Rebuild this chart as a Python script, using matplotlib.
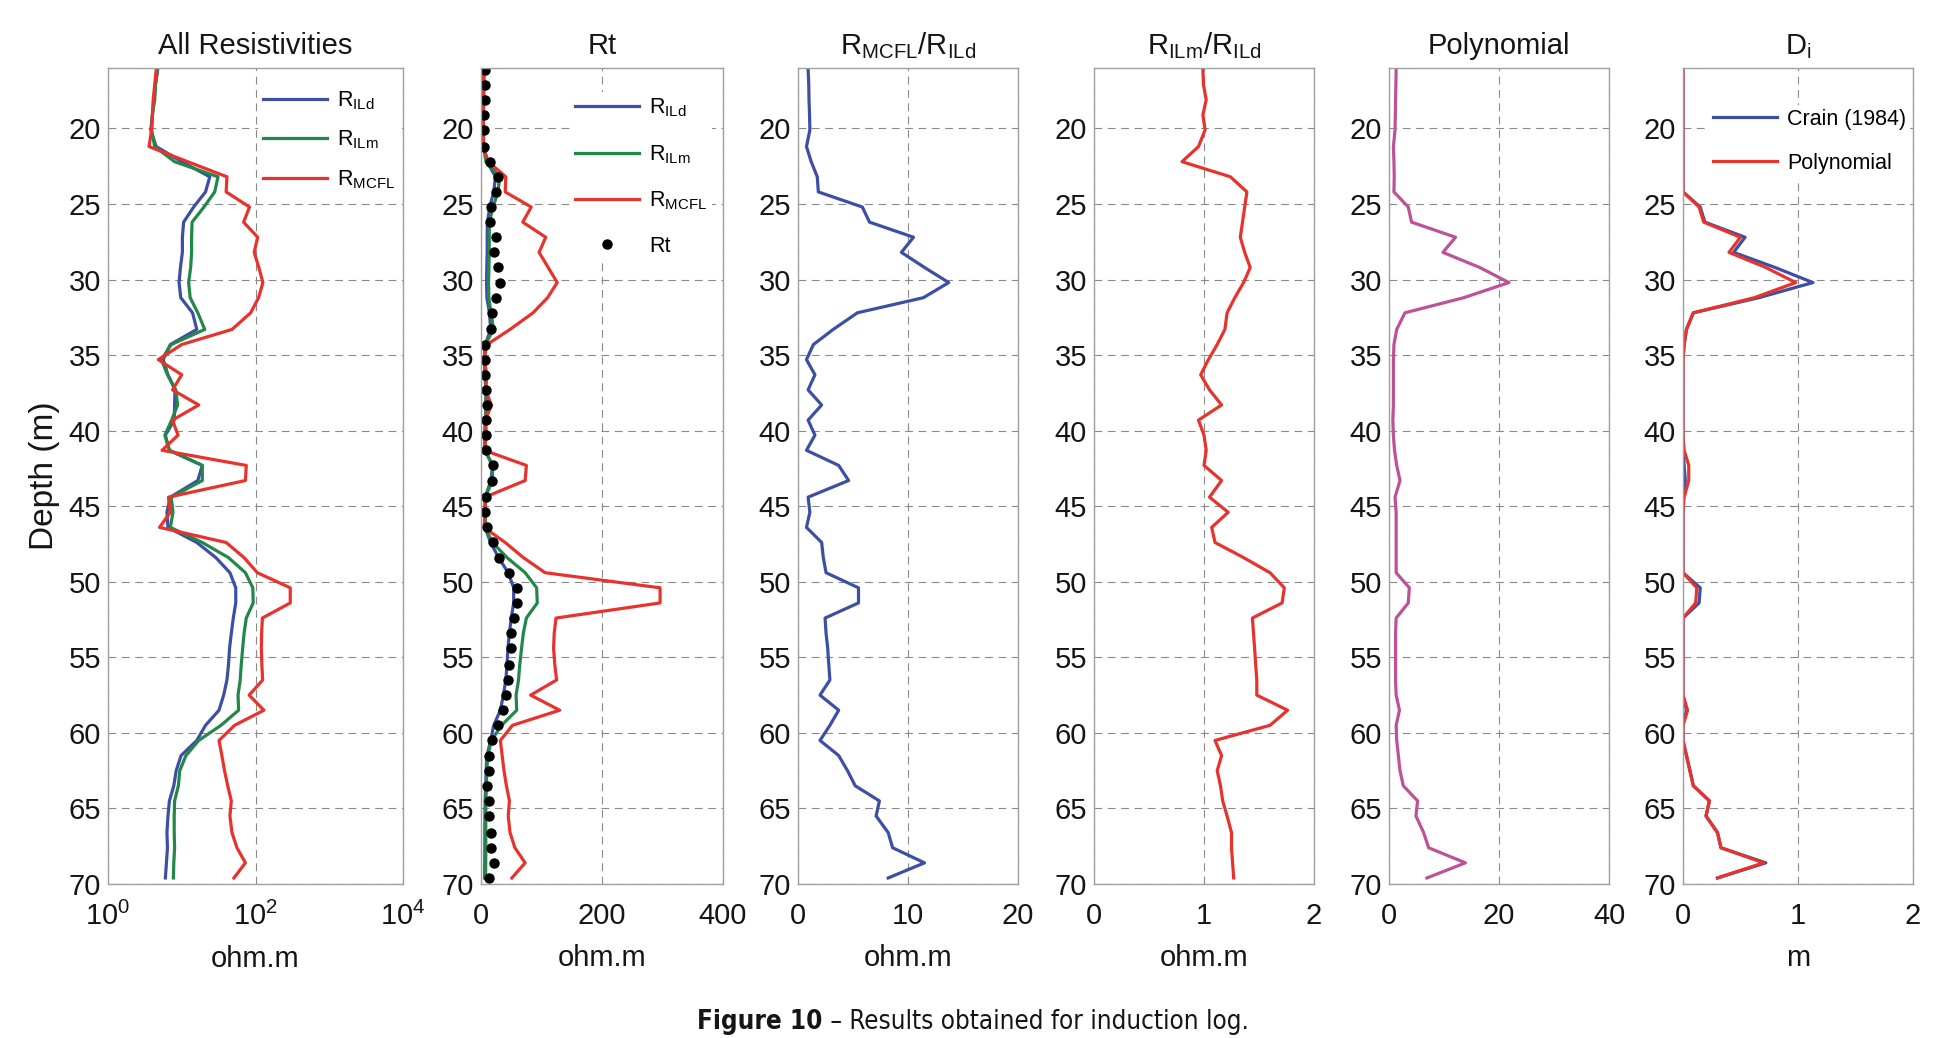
import matplotlib
matplotlib.use('Agg')
import matplotlib.pyplot as plt
import matplotlib.font_manager as fm
from matplotlib.font_manager import FontProperties
from matplotlib.ticker import FixedLocator, NullLocator, LogFormatterMathtext

plt.rcParams['font.family'] = ['Liberation Sans', 'DejaVu Sans']
plt.rcParams['mathtext.fontset'] = 'custom'
plt.rcParams['mathtext.rm'] = 'Liberation Sans'
plt.rcParams['mathtext.it'] = 'Liberation Sans:italic'
plt.rcParams['mathtext.bf'] = 'Liberation Sans:bold'

# ---------------- data ----------------
depth = [16.1, 17.1, 18.1, 19.1, 20.1, 21.2, 22.2, 23.2, 24.2, 25.2, 26.2, 27.2, 28.2, 29.2,
         30.2, 31.2, 32.2, 33.3, 34.3, 35.3, 36.3, 37.3, 38.3, 39.3, 40.3, 41.3, 42.3, 43.3,
         44.4, 45.4, 46.4, 47.4, 48.4, 49.4, 50.4, 51.4, 52.4, 53.4, 54.4, 55.5, 56.5, 57.5,
         58.5, 59.5, 60.5, 61.5, 62.5, 63.5, 64.5, 65.5, 66.6, 67.6, 68.6, 69.6]

r_ild = [4.7, 4.4, 4.2, 4.0, 3.8, 4.5, 10, 24, 21, 14.5, 10.6, 10.2, 10.2, 9.6,
         9.2, 9.7, 14, 16, 7.0, 5.6, 6.5, 8.1, 8.0, 7.9, 6.0, 6.8, 19, 16.5,
         7.0, 6.3, 6.5, 16, 29, 45, 54, 54, 50, 47, 44.5, 43, 41, 37,
         32, 21, 16, 9.8, 8.4, 7.8, 6.8, 6.5, 6.3, 6.4, 6.2, 6.0]

r_ilm = [4.7, 4.4, 4.3, 4.0, 3.9, 4.3, 8, 31, 28, 20, 13.8, 13.6, 13.6, 13.2,
         12.4, 13, 16.5, 20.5, 7.2, 5.3, 6.4, 8.3, 8.8, 7.3, 5.9, 6.8, 19, 19,
         7.2, 7.6, 7.0, 19, 43, 73, 92, 93, 75, 70, 67, 64, 62, 58,
         59, 34, 17, 11.4, 9.4, 9.0, 8.0, 7.9, 7.9, 8.0, 7.8, 7.7]

r_mcfl = [4.5, 4.3, 4.1, 4.0, 3.9, 3.6, 12, 41, 40, 83, 69, 107, 96, 111,
          126, 110, 86, 48, 10, 4.8, 10, 7.5, 17, 7.5, 8.9, 5.4, 75, 73,
          6.6, 7.0, 5.0, 40, 70, 106, 296, 296, 124, 121, 120, 122, 125, 82,
          130, 52, 32, 35, 38, 42, 47, 45, 48, 56, 73, 51]

rt = [7.3, 7.3, 6.1, 5.6, 5.6, 5.6, 14.5, 28, 24, 16.8, 14.5, 24, 21, 28,
      31, 24, 18.4, 17.3, 7.3, 7.3, 7.3, 9, 10, 9, 9, 9, 20, 18.4,
      9, 7.3, 10, 20, 30, 46, 59, 59, 54, 50, 50, 47, 45, 42,
      37, 28, 18, 13, 13, 10, 13, 13, 16, 16, 21, 13]

ratio_mcfl_ild = [0.92, 0.98, 1.0, 1.05, 1.08, 0.77, 1.2, 1.75, 1.85, 5.85, 6.5, 10.5, 9.4, 11.5,
                  13.7, 11.4, 5.4, 3.2, 1.4, 0.77, 1.54, 0.92, 2.15, 0.92, 1.54, 0.77, 3.7, 4.6,
                  0.92, 1.08, 0.77, 2.15, 2.3, 2.55, 5.5, 5.5, 2.46, 2.55, 2.7, 2.8, 2.9, 2.0,
                  3.7, 2.9, 2.0, 3.7, 4.5, 5.2, 7.4, 7.1, 8.2, 8.6, 11.5, 8.2]

ratio_ilm_ild = [0.99, 0.995, 1.02, 0.99, 1.01, 0.95, 0.80, 1.24, 1.39, 1.37, 1.35, 1.33, 1.37, 1.42,
                 1.36, 1.28, 1.21, 1.19, 1.12, 1.04, 0.97, 1.05, 1.16, 0.95, 1.0, 1.02, 1.0, 1.16,
                 1.05, 1.22, 1.07, 1.10, 1.36, 1.60, 1.73, 1.71, 1.44, 1.45, 1.46, 1.47, 1.48, 1.48,
                 1.76, 1.60, 1.10, 1.16, 1.12, 1.15, 1.17, 1.21, 1.25, 1.25, 1.26, 1.27]

polynomial = [1.3, 1.25, 1.2, 1.15, 1.1, 0.8, 0.9, 0.95, 0.9, 3.5, 4.1, 12.1, 9.8, 16.5,
              21.8, 13.6, 2.9, 1.4, 0.9, 0.8, 0.8, 0.8, 0.8, 0.7, 0.8, 1.0, 1.4, 2.0,
              1.1, 1.3, 1.3, 1.3, 1.3, 1.3, 3.7, 3.5, 1.3, 1.2, 1.2, 1.2, 1.2, 1.3,
              1.9, 1.3, 1.4, 1.7, 2.0, 2.6, 5.2, 4.9, 6.3, 7.2, 13.9, 6.9]

di_crain = [0, 0, 0, 0, 0, 0, 0, 0, 0, 0.15, 0.19, 0.54, 0.44, 0.80,
            1.13, 0.66, 0.09, 0.03, 0.01, 0, 0, 0, 0, 0, 0, 0, 0.01, 0.02,
            0, 0, 0, 0, 0, 0, 0.15, 0.14, 0, 0, 0, 0, 0, 0,
            0.03, 0, 0, 0.03, 0.06, 0.09, 0.23, 0.20, 0.30, 0.33, 0.72, 0.30]

di_poly = [0, 0, 0, 0, 0, 0, 0, 0, 0, 0.14, 0.18, 0.50, 0.40, 0.72,
           0.98, 0.62, 0.09, 0.03, 0.01, 0, 0, 0, 0, 0, 0, 0.01, 0.05, 0.05,
           0.01, 0, 0, 0, 0, 0, 0.12, 0.11, 0, 0, 0, 0, 0, 0,
           0.04, 0, 0, 0.03, 0.06, 0.09, 0.23, 0.20, 0.30, 0.33, 0.70, 0.30]

titles = ['All Resistivities', 'Rt', r'R$_{\mathrm{MCFL}}$/R$_{\mathrm{ILd}}$',
          r'R$_{\mathrm{ILm}}$/R$_{\mathrm{ILd}}$', 'Polynomial', r'D$_{\mathrm{i}}$']
xlabels = ['ohm.m', 'ohm.m', 'ohm.m', 'ohm.m', '', 'm']
xlims = [(1, 1e4), (0, 400), (0, 20), (0, 2), (0, 40), (0, 2)]
xtick_vals = [[1, 100, 10000], [0, 200, 400], [0, 10, 20], [0, 1, 2], [0, 20, 40], [0, 1, 2]]
depth_ticks = [20, 25, 30, 35, 40, 45, 50, 55, 60, 65, 70]
leg_ild, leg_ilm, leg_mcfl = r'R$_{\mathrm{ILd}}$', r'R$_{\mathrm{ILm}}$', r'R$_{\mathrm{MCFL}}$'
caption_bold = 'Figure 10'
caption_rest = ' \u2013 Results obtained for induction log.'

# ---------------- styles ----------------
BLUE = '#3d4fa5'
GREEN = '#23874a'
RED = '#e8332c'
MAG = '#bd5296'
LW = 2.3
TXT = '#151515'

W, H = 1934, 1038
fig = plt.figure(figsize=(W / 100, H / 100), dpi=100)

top_px, bot_px = 68, 884
panels_px = [(108, 403), (481, 723), (798, 1018), (1094, 1314), (1389, 1609), (1683, 1913)]
axes = []
for (l, r) in panels_px:
    ax = fig.add_axes([l / W, 1 - bot_px / H, (r - l) / W, (bot_px - top_px) / H])
    axes.append(ax)

for i, ax in enumerate(axes):
    if i == 0:
        ax.set_xscale('log')
    ax.set_xlim(*xlims[i])
    ax.set_ylim(70, 16)
    ax.xaxis.set_major_locator(FixedLocator(xtick_vals[i]))
    ax.xaxis.set_minor_locator(NullLocator())
    if i == 0:
        ax.xaxis.set_major_formatter(LogFormatterMathtext())
    ax.yaxis.set_major_locator(FixedLocator(depth_ticks))
    ax.yaxis.set_minor_locator(NullLocator())
    ax.grid(True, linestyle=(0, (7, 5)), color='#8a8a8a', linewidth=0.8)
    ax.set_axisbelow(True)
    for s in ax.spines.values():
        s.set_color('#a0a0a0')
        s.set_linewidth(1.0)
    ax.tick_params(length=0, labelsize=21, colors=TXT)
    ax.tick_params(axis='y', pad=5)
    ax.tick_params(axis='x', pad=13)
    ax.set_title(titles[i], fontsize=21, pad=10, color=TXT)
    if xlabels[i]:
        ax.set_xlabel(xlabels[i], fontsize=21, labelpad=10, color=TXT)

axes[0].set_ylabel('Depth (m)', fontsize=24, labelpad=6, color=TXT)

leg_kw = dict(fontsize=15.5, frameon=True, facecolor='white', edgecolor='none', framealpha=1,
              handlelength=3.0, borderpad=0.2, borderaxespad=0, handletextpad=0.45)

# Panel 1
ax = axes[0]
ax.plot(r_ild, depth, color=BLUE, lw=LW, label=leg_ild)
ax.plot(r_ilm, depth, color=GREEN, lw=LW, label=leg_ilm)
ax.plot(r_mcfl, depth, color=RED, lw=LW, label=leg_mcfl)
ax.legend(loc='upper left', bbox_to_anchor=(0.51, 0.979), labelspacing=0.78, **leg_kw)

# Panel 2
ax = axes[1]
ax.plot(r_ild, depth, color=BLUE, lw=LW, label=leg_ild)
ax.plot(r_ilm, depth, color=GREEN, lw=LW, label=leg_ilm)
ax.plot(r_mcfl, depth, color=RED, lw=LW, label=leg_mcfl)
ax.plot(rt, depth, 'o', color='black', markersize=6.5, label='Rt')
ax.legend(loc='upper left', bbox_to_anchor=(0.37, 0.97), labelspacing=1.1, numpoints=1, **leg_kw)

# Panel 3
axes[2].plot(ratio_mcfl_ild, depth, color=BLUE, lw=LW)
# Panel 4
axes[3].plot(ratio_ilm_ild, depth, color=RED, lw=LW)
# Panel 5
axes[4].plot(polynomial, depth, color=MAG, lw=LW)
# Panel 6
ax = axes[5]
ax.plot(di_crain, depth, color=BLUE, lw=LW, label='Crain (1984)')
ax.plot(di_poly, depth, color=RED, lw=LW, label='Polynomial')
ax.legend(loc='upper left', bbox_to_anchor=(0.11, 0.955), labelspacing=1.05, **leg_kw)

# ---------------- caption (condensed font if one is installed) ----------------
def find_font(bold):
    best = None
    for f in fm.fontManager.ttflist:
        key = (f.name + ' ' + f.fname).lower()
        if ('narrow' in key or 'condensed' in key) and f.style == 'normal':
            w = f.weight if isinstance(f.weight, int) else (700 if 'bold' in str(f.weight) else 400)
            if (w >= 600) == bold and 'mono' not in key and 'serif' not in key.replace('sans', ''):
                score = 0 if 'liberation' in key else (1 if 'sans' in key else 2)
                if best is None or score < best[0]:
                    best = (score, f.fname)
    return best[1] if best else None

reg_path, bold_path = find_font(False), find_font(True)
if reg_path and bold_path:
    fp_reg = FontProperties(fname=reg_path)
    fp_bold = FontProperties(fname=bold_path)
else:
    fp_reg = FontProperties(family=['Liberation Sans', 'DejaVu Sans'])
    fp_bold = FontProperties(family=['Liberation Sans', 'DejaVu Sans'], weight='bold')

cap_y = 1 - 1022 / H
size = 23.0
renderer = fig.canvas.get_renderer()
t1 = fig.text(0, cap_y, caption_bold, fontproperties=fp_bold, fontsize=size, ha='left', va='center', color=TXT)
t2 = fig.text(0, cap_y, caption_rest, fontproperties=fp_reg, fontsize=size, ha='left', va='center', color=TXT)
w_tot = t1.get_window_extent(renderer).width + t2.get_window_extent(renderer).width
target = 1250 - 697
if w_tot > target * 1.04:
    size = size * target / w_tot
    t1.set_fontsize(size)
    t2.set_fontsize(size)
w1 = t1.get_window_extent(renderer).width
w2 = t2.get_window_extent(renderer).width
x0 = (973 - (w1 + w2) / 2)
t1.set_x(x0 / W)
t2.set_x((x0 + w1) / W)

fig.savefig('out.png', dpi=100)
